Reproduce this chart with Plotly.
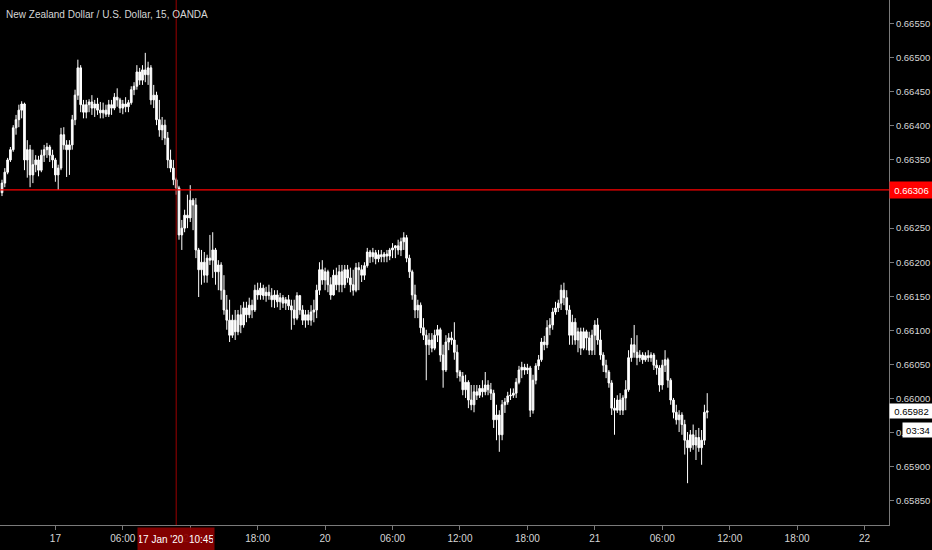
import pandas as pd
import plotly.graph_objects as go

# ---- data: NZD/USD 15-minute candles (OANDA), 16 Jan 2020 19:15 -> 21 Jan 2020 09:45 ----
bar_start = "2020-01-16 19:15"
weekend_close = "2020-01-17 22:00"
weekend_open = "2020-01-19 22:00"

opens = [
0.66302,0.66316,0.66332,0.66350,0.66365,0.66397,0.66409,0.66423,0.66432,0.66350,
0.66365,0.66328,0.66343,0.66350,0.66335,0.66357,0.66365,0.66369,0.66357,0.66350,
0.66328,0.66338,0.66387,0.66372,0.66365,0.66372,0.66409,0.66445,0.66485,0.66431,
0.66420,0.66431,0.66435,0.66426,0.66432,0.66423,0.66419,0.66423,0.66417,0.66431,
0.66426,0.66442,0.66438,0.66426,0.66432,0.66428,0.66434,0.66453,0.66458,0.66479,
0.66467,0.66482,0.66475,0.66485,0.66438,0.66445,0.66409,0.66394,0.66401,0.66382,
0.66350,0.66338,0.66321,0.66309,0.66240,0.66250,0.66269,0.66265,0.66291,0.66284,
0.66218,0.66189,0.66200,0.66181,0.66206,0.66203,0.66218,0.66186,0.66196,0.66159,
0.66130,0.66115,0.66093,0.66115,0.66098,0.66123,0.66108,0.66133,0.66123,0.66137,
0.66130,0.66159,0.66152,0.66162,0.66151,0.66156,0.66151,0.66145,0.66152,0.66142,
0.66148,0.66140,0.66145,0.66136,0.66130,0.66118,0.66151,0.66130,0.66115,0.66123,
0.66115,0.66127,0.66130,0.66159,0.66189,0.66174,0.66186,0.66167,0.66152,0.66181,
0.66167,0.66186,0.66167,0.66189,0.66177,0.66167,0.66159,0.66192,0.66189,0.66181,
0.66195,0.66215,0.66208,0.66214,0.66205,0.66211,0.66208,0.66212,0.66209,0.66218,
0.66221,0.66224,0.66218,0.66230,0.66236,0.66206,0.66186,0.66152,0.66130,0.66137,
0.66104,0.66093,0.66079,0.66086,0.66074,0.66093,0.66101,0.66064,0.66042,0.66083,
0.66089,0.66086,0.66068,0.66039,0.66033,0.66013,0.66024,0.65998,0.65991,0.66010,
0.66005,0.66015,0.66010,0.66020,0.66013,0.66008,0.65969,0.65976,0.65947,0.65991,
0.65995,0.66004,0.66005,0.66008,0.66024,0.66042,0.66046,0.66042,0.66045,0.65983,
0.66027,0.66048,0.66057,0.66083,0.66079,0.66104,0.66108,0.66127,0.66133,0.66140,
0.66159,0.66148,0.66130,0.66093,0.66112,0.66086,0.66098,0.66074,0.66098,0.66089,
0.66071,0.66093,0.66108,0.66086,0.66064,0.66049,0.66039,0.66023,0.65986,0.65983,
0.65998,0.65983,0.66001,0.66013,0.66060,0.66079,0.66068,0.66060,0.66064,0.66057,
0.66063,0.66060,0.66064,0.66049,0.66045,0.66020,0.66049,0.66057,0.66027,0.65998,
0.65980,0.65969,0.65976,0.65962,0.65939,0.65928,0.65947,0.65932,0.65943,0.65928,
0.65939,0.65980]

highs = [
0.66321,0.66338,0.66353,0.66369,0.66401,0.66416,0.66431,0.66436,0.66434,0.66379,
0.66372,0.66365,0.66357,0.66356,0.66365,0.66372,0.66375,0.66372,0.66365,0.66353,
0.66343,0.66397,0.66398,0.66379,0.66379,0.66416,0.66453,0.66497,0.66489,0.66438,
0.66438,0.66439,0.66445,0.66438,0.66441,0.66435,0.66434,0.66431,0.66438,0.66438,
0.66448,0.66455,0.66441,0.66438,0.66442,0.66438,0.66458,0.66464,0.66489,0.66485,
0.66489,0.66507,0.66494,0.66489,0.66460,0.66450,0.66438,0.66413,0.66409,0.66391,
0.66365,0.66350,0.66324,0.66312,0.66262,0.66277,0.66299,0.66313,0.66294,0.66294,
0.66221,0.66218,0.66215,0.66211,0.66240,0.66244,0.66221,0.66203,0.66200,0.66181,
0.66152,0.66145,0.66123,0.66130,0.66130,0.66137,0.66142,0.66142,0.66148,0.66145,
0.66167,0.66170,0.66170,0.66167,0.66164,0.66167,0.66162,0.66159,0.66159,0.66155,
0.66152,0.66149,0.66152,0.66145,0.66145,0.66156,0.66152,0.66137,0.66130,0.66130,
0.66137,0.66145,0.66167,0.66200,0.66203,0.66192,0.66189,0.66178,0.66189,0.66192,
0.66196,0.66196,0.66196,0.66196,0.66192,0.66189,0.66199,0.66200,0.66196,0.66200,
0.66221,0.66218,0.66221,0.66218,0.66218,0.66218,0.66215,0.66218,0.66221,0.66228,
0.66225,0.66233,0.66236,0.66244,0.66240,0.66211,0.66189,0.66167,0.66145,0.66141,
0.66118,0.66101,0.66096,0.66096,0.66101,0.66108,0.66104,0.66079,0.66093,0.66096,
0.66098,0.66112,0.66079,0.66042,0.66039,0.66035,0.66027,0.66020,0.66020,0.66020,
0.66020,0.66027,0.66039,0.66027,0.66023,0.66013,0.65991,0.65983,0.65998,0.66001,
0.66010,0.66015,0.66015,0.66030,0.66048,0.66054,0.66051,0.66051,0.66048,0.66035,
0.66052,0.66064,0.66089,0.66092,0.66115,0.66118,0.66133,0.66142,0.66145,0.66167,
0.66170,0.66159,0.66137,0.66123,0.66118,0.66104,0.66104,0.66104,0.66101,0.66098,
0.66101,0.66115,0.66118,0.66101,0.66068,0.66057,0.66042,0.66027,0.66001,0.66005,
0.66008,0.66005,0.66027,0.66071,0.66089,0.66108,0.66093,0.66071,0.66068,0.66068,
0.66071,0.66068,0.66067,0.66057,0.66049,0.66057,0.66071,0.66060,0.66030,0.66001,
0.65991,0.65983,0.65980,0.65969,0.65951,0.65954,0.65962,0.65954,0.65957,0.65954,
0.65991,0.66008]

lows = [
0.66297,0.66310,0.66329,0.66347,0.66362,0.66387,0.66398,0.66411,0.66335,0.66324,
0.66310,0.66316,0.66332,0.66326,0.66332,0.66347,0.66353,0.66347,0.66338,0.66318,
0.66306,0.66335,0.66365,0.66325,0.66328,0.66365,0.66401,0.66438,0.66420,0.66411,
0.66411,0.66420,0.66416,0.66413,0.66416,0.66411,0.66411,0.66413,0.66413,0.66416,
0.66423,0.66428,0.66419,0.66417,0.66420,0.66420,0.66431,0.66445,0.66453,0.66460,
0.66460,0.66464,0.66460,0.66431,0.66426,0.66401,0.66384,0.66379,0.66372,0.66338,
0.66332,0.66313,0.66299,0.66233,0.66218,0.66244,0.66250,0.66259,0.66247,0.66206,
0.66149,0.66167,0.66170,0.66170,0.66196,0.66177,0.66167,0.66159,0.66145,0.66123,
0.66101,0.66083,0.66089,0.66086,0.66093,0.66096,0.66104,0.66112,0.66118,0.66118,
0.66127,0.66145,0.66145,0.66145,0.66142,0.66145,0.66134,0.66133,0.66134,0.66130,
0.66133,0.66130,0.66130,0.66101,0.66108,0.66115,0.66123,0.66108,0.66104,0.66108,
0.66107,0.66112,0.66118,0.66152,0.66167,0.66159,0.66156,0.66145,0.66151,0.66159,
0.66156,0.66156,0.66162,0.66170,0.66156,0.66151,0.66156,0.66159,0.66171,0.66174,
0.66192,0.66199,0.66200,0.66197,0.66200,0.66200,0.66200,0.66200,0.66203,0.66206,
0.66206,0.66211,0.66209,0.66218,0.66200,0.66177,0.66145,0.66118,0.66118,0.66096,
0.66086,0.66027,0.66064,0.66068,0.66071,0.66083,0.66054,0.66016,0.66039,0.66071,
0.66079,0.66057,0.66030,0.66025,0.66005,0.66001,0.65986,0.65983,0.65980,0.65998,
0.66001,0.66002,0.66005,0.66005,0.65998,0.65957,0.65939,0.65922,0.65939,0.65979,
0.65991,0.65998,0.66001,0.66001,0.66021,0.66030,0.66035,0.66036,0.65973,0.65978,
0.66021,0.66042,0.66054,0.66071,0.66074,0.66093,0.66101,0.66123,0.66127,0.66130,
0.66137,0.66123,0.66079,0.66079,0.66079,0.66068,0.66064,0.66071,0.66071,0.66064,
0.66064,0.66064,0.66079,0.66057,0.66039,0.66030,0.66016,0.65976,0.65947,0.65979,
0.65976,0.65976,0.65983,0.66010,0.66054,0.66060,0.66049,0.66054,0.66051,0.66054,
0.66054,0.66054,0.66042,0.66035,0.66010,0.66013,0.66039,0.66016,0.65991,0.65971,
0.65962,0.65951,0.65947,0.65918,0.65876,0.65922,0.65925,0.65910,0.65922,0.65903,
0.65932,0.65971]

closes = [
0.66316,0.66332,0.66350,0.66365,0.66397,0.66409,0.66423,0.66432,0.66350,0.66365,
0.66328,0.66343,0.66350,0.66335,0.66357,0.66365,0.66369,0.66357,0.66350,0.66328,
0.66338,0.66387,0.66372,0.66365,0.66372,0.66409,0.66445,0.66485,0.66431,0.66420,
0.66431,0.66435,0.66426,0.66432,0.66423,0.66419,0.66423,0.66417,0.66431,0.66426,
0.66442,0.66438,0.66426,0.66432,0.66428,0.66434,0.66453,0.66458,0.66479,0.66467,
0.66482,0.66475,0.66485,0.66438,0.66445,0.66409,0.66394,0.66401,0.66382,0.66350,
0.66338,0.66321,0.66309,0.66240,0.66250,0.66269,0.66265,0.66291,0.66284,0.66218,
0.66189,0.66200,0.66181,0.66206,0.66203,0.66218,0.66186,0.66196,0.66159,0.66130,
0.66115,0.66093,0.66115,0.66098,0.66123,0.66108,0.66133,0.66123,0.66137,0.66130,
0.66159,0.66152,0.66162,0.66151,0.66156,0.66151,0.66145,0.66152,0.66142,0.66148,
0.66140,0.66145,0.66136,0.66130,0.66118,0.66151,0.66130,0.66115,0.66123,0.66115,
0.66127,0.66130,0.66159,0.66189,0.66174,0.66186,0.66167,0.66152,0.66181,0.66167,
0.66186,0.66167,0.66189,0.66177,0.66167,0.66159,0.66192,0.66189,0.66181,0.66195,
0.66215,0.66208,0.66214,0.66205,0.66211,0.66208,0.66212,0.66209,0.66218,0.66221,
0.66224,0.66218,0.66230,0.66236,0.66206,0.66186,0.66152,0.66130,0.66137,0.66104,
0.66093,0.66079,0.66086,0.66074,0.66093,0.66101,0.66064,0.66042,0.66083,0.66089,
0.66086,0.66068,0.66039,0.66033,0.66013,0.66024,0.65998,0.65991,0.66010,0.66005,
0.66015,0.66010,0.66020,0.66013,0.66008,0.65969,0.65976,0.65947,0.65991,0.65995,
0.66004,0.66005,0.66008,0.66024,0.66042,0.66046,0.66042,0.66045,0.65983,0.66027,
0.66048,0.66057,0.66083,0.66079,0.66104,0.66108,0.66127,0.66133,0.66140,0.66159,
0.66148,0.66130,0.66093,0.66112,0.66086,0.66098,0.66074,0.66098,0.66089,0.66071,
0.66093,0.66108,0.66086,0.66064,0.66049,0.66039,0.66023,0.65986,0.65983,0.65998,
0.65983,0.66001,0.66013,0.66060,0.66079,0.66068,0.66060,0.66064,0.66057,0.66063,
0.66060,0.66064,0.66049,0.66045,0.66020,0.66049,0.66057,0.66027,0.65998,0.65980,
0.65969,0.65976,0.65962,0.65939,0.65928,0.65947,0.65932,0.65943,0.65928,0.65939,
0.65980,0.65982]

price_ticks = [0.65850, 0.65900, 0.65950, 0.66000, 0.66050, 0.66100, 0.66150,
               0.66200, 0.66250, 0.66300, 0.66350, 0.66400, 0.66450, 0.66500, 0.66550]
marked_level = 0.66306
last_price = 0.65982
countdown = "03:34"
crosshair_time = "2020-01-17 10:45"
crosshair_text = "17 Jan '20  10:45"
title = "New Zealand Dollar / U.S. Dollar, 15, OANDA"

# ---- bar timeline (15-minute bars, weekend closed) ----
times = []
t = pd.Timestamp(bar_start)
wc, wo = pd.Timestamp(weekend_close), pd.Timestamp(weekend_open)
while len(times) < 330:
    if not (wc <= t < wo):
        times.append(t)
    t += pd.Timedelta(minutes=15)

n = len(closes)
bar_x = list(range(n))
x_min, x_max = -0.71, 315.7

tickvals, ticktext = [], []
for i, tm in enumerate(times):
    if i > x_max:
        break
    if tm.minute == 0 and tm.hour % 6 == 0:
        tickvals.append(i)
        ticktext.append(str(tm.day) if tm.hour == 0 else f"{tm.hour:02d}:00")

cross_x = times.index(pd.Timestamp(crosshair_time))

FONT = "Liberation Sans, Arial, sans-serif"
TXT = "#d6d6d6"
AXC = "#7a7a7a"

fig = go.Figure()
fig.add_trace(go.Candlestick(
    x=bar_x, open=opens, high=highs, low=lows, close=closes,
    increasing=dict(line=dict(color="#ffffff", width=1), fillcolor="#ffffff"),
    decreasing=dict(line=dict(color="#ffffff", width=1), fillcolor="#ffffff"),
    whiskerwidth=0, hoverinfo="skip", showlegend=False,
))

fig.update_layout(
    width=932, height=550,
    margin=dict(l=0, r=43, t=0, b=25),
    paper_bgcolor="#000000", plot_bgcolor="#000000",
    hovermode=False, showlegend=False, boxgap=0.15,
    font=dict(family=FONT, size=10, color=TXT),
    xaxis=dict(range=[x_min, x_max], tickmode="array", tickvals=tickvals, ticktext=ticktext,
               showgrid=False, zeroline=False, showline=True, linecolor=AXC, linewidth=1,
               ticks="outside", ticklen=4, tickcolor=AXC, tickfont=dict(size=10, color=TXT),
               rangeslider=dict(visible=False), fixedrange=True),
    yaxis=dict(side="right", range=[0.658147, 0.665845], tickmode="array", tickvals=price_ticks,
               tickformat=".5f", showgrid=False, zeroline=False, showline=True, linecolor=AXC,
               linewidth=1, ticks="outside", ticklen=4, tickcolor=AXC,
               tickfont=dict(size=9.5, color=TXT), fixedrange=True),
)

# horizontal marked level
fig.add_shape(type="line", xref="paper", yref="y", x0=0, x1=1, y0=marked_level, y1=marked_level,
              line=dict(color="#ff0000", width=1.2))
# vertical crosshair
fig.add_shape(type="line", xref="x", yref="paper", x0=cross_x, x1=cross_x, y0=0, y1=1,
              line=dict(color="#9a0000", width=1))

# title
fig.add_annotation(xref="paper", yref="paper", x=0, y=1, xanchor="left", yanchor="top",
                   xshift=4, yshift=-7, text=title, showarrow=False,
                   font=dict(family=FONT, size=10, color="#d6d6d6"))
# level label on price axis
fig.add_annotation(xref="paper", yref="y", x=1, y=marked_level, xanchor="left", yanchor="middle",
                   text=marked_level.__format__(".5f"), showarrow=False, bgcolor="#ff0000",
                   width=41, height=14, borderpad=1, align="center",
                   font=dict(family=FONT, size=9.5, color="#ffffff"))
# last price label
fig.add_annotation(xref="paper", yref="y", x=1, y=last_price, xanchor="left", yanchor="middle",
                   text=last_price.__format__(".5f"), showarrow=False, bgcolor="#ffffff",
                   width=41, height=12, borderpad=1, align="center",
                   font=dict(family=FONT, size=9.5, color="#000000"))
# countdown label
fig.add_annotation(xref="paper", yref="y", x=1, y=last_price, xanchor="left", yanchor="middle",
                   xshift=13, yshift=-19, text=countdown, showarrow=False, bgcolor="#ffffff",
                   width=28, height=12, borderpad=1, align="center",
                   font=dict(family=FONT, size=9.5, color="#000000"))
# crosshair time label
fig.add_annotation(xref="x", yref="paper", x=cross_x, y=0, xanchor="center", yanchor="top",
                   yshift=-2, text=crosshair_text, showarrow=False, bgcolor="rgba(140,0,0,0.93)",
                   width=74, height=20, borderpad=1, align="center",
                   font=dict(family=FONT, size=10, color="#ffffff"))

fig.write_html("out.html", config={"displayModeBar": False},
               post_script="document.body.style.margin='0px';")
